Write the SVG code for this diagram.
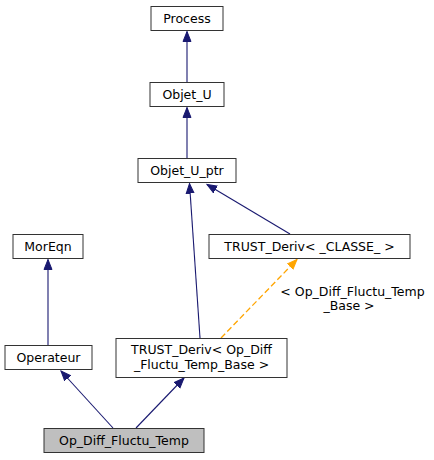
<svg xmlns="http://www.w3.org/2000/svg" width="434" height="460" viewBox="0 0 434 460">
<defs>
<marker id="ah" markerWidth="12" markerHeight="12" refX="10" refY="5" orient="auto" markerUnits="userSpaceOnUse">
<path d="M0,1 L10,5 L0,9 Z" fill="#191970" stroke="#191970"/>
</marker>
<marker id="ao" markerWidth="12" markerHeight="12" refX="10" refY="5" orient="auto" markerUnits="userSpaceOnUse">
<path d="M0,1 L10,5 L0,9 Z" fill="#ffa500" stroke="#ffa500"/>
</marker>
</defs>
<style>
rect{fill:#fff;stroke:#333;stroke-width:1}
text{font-family:"DejaVu Sans","Liberation Sans",sans-serif;font-size:12.5px;fill:#000;text-anchor:middle}
.e{fill:none;stroke:#191970;stroke-width:1.1;marker-end:url(#ah)}
.d{fill:none;stroke:#ffa500;stroke-width:1.3;stroke-dasharray:6,3;marker-end:url(#ao)}
</style>
<rect x="0" y="0" width="434" height="460" style="fill:#fff;stroke:none"/>
<g id="edges">
<path class="e" d="M187,82 L187,31.5"/>
<path class="e" d="M187,158 L187,107.5"/>
<path class="e" d="M200,338 L189.5,183.5"/>
<path class="e" d="M290,234 L207,184.5"/>
<path class="e" d="M48,345 L48,259.5"/>
<path class="d" d="M221,338 L297,259.5"/>
<path class="e" d="M113,428 L61,371"/>
<path class="e" d="M136,428 L184,378"/>
<text x="352.5" y="295.5">&lt; Op_Diff_Fluctu_Temp</text>
<text x="349" y="309.5">_Base &gt;</text>
</g>
<g id="n_process"><rect x="151" y="6.5" width="72" height="24"/><text x="187" y="23">Process</text></g>
<g id="n_objet_u"><rect x="150" y="82.5" width="74" height="24"/><text x="187" y="99">Objet_U</text></g>
<g id="n_objet_u_ptr"><rect x="138" y="158.5" width="98" height="24"/><text x="187" y="175">Objet_U_ptr</text></g>
<g id="n_moreqn"><rect x="13" y="234.5" width="70" height="24"/><text x="48" y="251">MorEqn</text></g>
<g id="n_trust_classe"><rect x="209" y="234.5" width="201" height="24"/><text x="309.5" y="251">TRUST_Deriv&lt; _CLASSE_ &gt;</text></g>
<g id="n_operateur"><rect x="5" y="345.5" width="87" height="24"/><text x="48.5" y="362">Operateur</text></g>
<g id="n_trust_op"><rect x="116" y="338.5" width="171" height="39"/><text x="201.5" y="353.5">TRUST_Deriv&lt; Op_Diff</text><text x="201.5" y="368.5">_Fluctu_Temp_Base &gt;</text></g>
<g id="n_op_diff"><rect x="44" y="428.5" width="160" height="24" style="fill:#bfbfbf"/><text x="124" y="445">Op_Diff_Fluctu_Temp</text></g>
</svg>
